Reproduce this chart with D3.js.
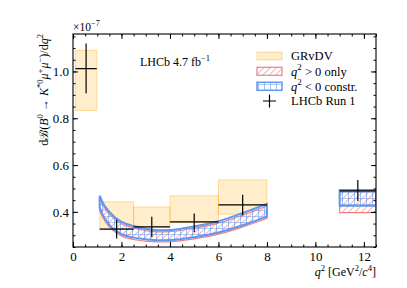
<!DOCTYPE html>
<html>
<body>
<style>
    body { margin: 0; background: white; }
    #view { font-family: "Liberation Serif", "DejaVu Serif", serif; }
</style>

<svg id="view" width="407" height="288"></svg>

<script src="https://cdnjs.cloudflare.com/ajax/libs/d3/7.8.5/d3.min.js"></script>
<script>
    // q2 bins (GeV^2/c^4) and values in units of 1e-7
    const binLo = [0.1, 1.1, 2.5, 4.0, 6.0, 11.0];
    const binHi = [0.98, 2.5, 4.0, 6.0, 8.0, 12.5];

    // GRvDV prediction boxes
    const grvdvLo = [0.833, 0.326, 0.335, 0.354, 0.390, 0.450];
    const grvdvHi = [1.090, 0.443, 0.421, 0.469, 0.537, 0.488];

    // LHCb Run 1 points
    const lhcbX = [0.54, 1.8, 3.25, 5.0, 7.0, 11.75];
    const lhcbY = [1.012, 0.326, 0.336, 0.357, 0.430, 0.490];
    const lhcbLo = [0.907, 0.286, 0.293, 0.314, 0.386, 0.447];
    const lhcbHi = [1.119, 0.366, 0.379, 0.393, 0.473, 0.536];

    // bands, low q2 region
    const bandQ = [1.1, 1.25, 1.5, 2.0, 2.5, 3.0, 3.5, 4.0, 5.0, 6.0, 7.0, 8.0];
    const posUp = [0.458, 0.425, 0.390, 0.348, 0.332, 0.320, 0.315, 0.316, 0.330, 0.352, 0.386, 0.425];
    const posDn = [0.405, 0.372, 0.336, 0.297, 0.282, 0.275, 0.272, 0.273, 0.285, 0.305, 0.336, 0.372];
    const negUp = [0.469, 0.435, 0.400, 0.357, 0.340, 0.328, 0.322, 0.323, 0.338, 0.360, 0.395, 0.434];
    const negDn = [0.418, 0.383, 0.345, 0.305, 0.290, 0.283, 0.279, 0.280, 0.292, 0.312, 0.343, 0.380];

    // bands, high q2 region
    const highQ = [11.0, 12.5];
    const posHighUp = [0.487, 0.487];
    const posHighDn = [0.397, 0.397];
    const negHighUp = [0.493, 0.493];
    const negHighDn = [0.426, 0.426];

    const xTicks = [0, 2, 4, 6, 8, 10, 12];
    const yTicks = [0.4, 0.6, 0.8, 1.0];
    const yTickLabels = ['0.4', '0.6', '0.8', '1.0'];

    const orangeFill = 'rgba(255,165,0,0.2)';
    const orangeEdge = 'rgba(255,165,0,0.35)';
    const red = '#f08080';
    const blue = '#6495ed';
    const serif = '"Liberation Serif", "DejaVu Serif", serif';

    const svg = d3.select('#view');
    const mLeft = 73, mRight = 376, mTop = 34, mBottom = 247;

    const x = d3.scaleLinear().domain([0, 12.5]).range([mLeft, mRight]);
    const y = d3.scaleLinear().domain([0.25, 1.16]).range([mBottom, mTop]);

    // hatch patterns
    const defs = svg.append('defs');
    const hatch = defs.append('pattern')
        .attr('id', 'hatchRed')
        .attr('patternUnits', 'userSpaceOnUse')
        .attr('width', 4.5).attr('height', 4.5)
        .attr('patternTransform', 'rotate(45)');
    hatch.append('line')
        .attr('x1', 0).attr('y1', 0).attr('x2', 0).attr('y2', 4.5)
        .attr('stroke', red).attr('stroke-width', 1.2);

    const grid = defs.append('pattern')
        .attr('id', 'gridBlue')
        .attr('patternUnits', 'userSpaceOnUse')
        .attr('width', 6).attr('height', 6);
    grid.append('path')
        .attr('d', 'M0,0L6,0M0,0L0,6')
        .attr('stroke', blue).attr('stroke-width', 1.2).attr('fill', 'none');

    defs.append('clipPath').attr('id', 'plotClip')
        .append('rect')
        .attr('x', mLeft).attr('y', mTop)
        .attr('width', mRight - mLeft).attr('height', mBottom - mTop);

    const plot = svg.append('g').attr('clip-path', 'url(#plotClip)');

    // GRvDV boxes
    plot.selectAll('.grvdv')
        .data(d3.range(binLo.length))
        .enter().append('rect')
        .attr('x', i => x(binLo[i]))
        .attr('y', i => y(grvdvHi[i]))
        .attr('width', i => x(binHi[i]) - x(binLo[i]))
        .attr('height', i => y(grvdvLo[i]) - y(grvdvHi[i]))
        .attr('fill', orangeFill)
        .attr('stroke', orangeEdge)
        .attr('stroke-width', 1);

    const area = d3.area()
        .x(d => x(d.q))
        .y0(d => y(d.lo))
        .y1(d => y(d.hi))
        .curve(d3.curveMonotoneX);

    function bandData(qs, lo, hi) {
        return qs.map((q, i) => ({q: q, lo: lo[i], hi: hi[i]}));
    }

    const posBands = [bandData(bandQ, posDn, posUp), bandData(highQ, posHighDn, posHighUp)];
    const negBands = [bandData(bandQ, negDn, negUp), bandData(highQ, negHighDn, negHighUp)];

    posBands.forEach(b => {
        plot.append('path').attr('d', area(b)).attr('fill', 'white');
        plot.append('path').attr('d', area(b))
            .attr('fill', 'url(#hatchRed)')
            .attr('stroke', red).attr('stroke-width', 1.2);
    });
    negBands.forEach(b => {
        plot.append('path').attr('d', area(b))
            .attr('fill', 'url(#gridBlue)')
            .attr('stroke', blue).attr('stroke-width', 2);
    });

    // LHCb Run 1 crosses
    const pts = plot.selectAll('.lhcb')
        .data(d3.range(lhcbX.length))
        .enter().append('g');
    pts.append('line')
        .attr('x1', i => x(binLo[i])).attr('x2', i => x(binHi[i]))
        .attr('y1', i => y(lhcbY[i])).attr('y2', i => y(lhcbY[i]))
        .attr('stroke', 'black').attr('stroke-width', 1.2);
    pts.append('line')
        .attr('x1', i => x(lhcbX[i])).attr('x2', i => x(lhcbX[i]))
        .attr('y1', i => y(lhcbLo[i])).attr('y2', i => y(lhcbHi[i]))
        .attr('stroke', 'black').attr('stroke-width', 1.2);

    // axes: inward ticks on all four sides
    const xMinor = d3.range(0, 12.51, 0.5);
    const yMinor = d3.range(0.25, 1.16, 0.05);

    function styleAxis(g) {
        g.attr('font-family', serif).attr('font-size', 13);
        g.select('.domain').remove();
        g.selectAll('line').attr('stroke', 'black').attr('stroke-width', 1);
        g.selectAll('text').attr('fill', 'black');
    }

    svg.append('g').attr('transform', `translate(0,${mBottom})`)
        .call(d3.axisBottom(x).tickValues(xTicks).tickSize(-5).tickPadding(5).tickFormat(d3.format('d')))
        .call(styleAxis);
    svg.append('g').attr('transform', `translate(0,${mBottom})`)
        .call(d3.axisBottom(x).tickValues(xMinor).tickSize(-2.5).tickFormat(''))
        .call(styleAxis);
    svg.append('g').attr('transform', `translate(0,${mTop})`)
        .call(d3.axisTop(x).tickValues(xTicks).tickSize(-5).tickFormat(''))
        .call(styleAxis);
    svg.append('g').attr('transform', `translate(0,${mTop})`)
        .call(d3.axisTop(x).tickValues(xMinor).tickSize(-2.5).tickFormat(''))
        .call(styleAxis);

    svg.append('g').attr('transform', `translate(${mLeft},0)`)
        .call(d3.axisLeft(y).tickValues(yTicks).tickSize(-5).tickPadding(4).tickFormat((d, i) => yTickLabels[i]))
        .call(styleAxis);
    svg.append('g').attr('transform', `translate(${mLeft},0)`)
        .call(d3.axisLeft(y).tickValues(yMinor).tickSize(-2.5).tickFormat(''))
        .call(styleAxis);
    svg.append('g').attr('transform', `translate(${mRight},0)`)
        .call(d3.axisRight(y).tickValues(yTicks).tickSize(-5).tickFormat(''))
        .call(styleAxis);
    svg.append('g').attr('transform', `translate(${mRight},0)`)
        .call(d3.axisRight(y).tickValues(yMinor).tickSize(-2.5).tickFormat(''))
        .call(styleAxis);

    svg.append('rect')
        .attr('x', mLeft).attr('y', mTop)
        .attr('width', mRight - mLeft).attr('height', mBottom - mTop)
        .attr('fill', 'none').attr('stroke', 'black').attr('stroke-width', 1.1);

    // text with italic / superscript parts
    function richText(t, parts, size) {
        let up = 0;
        parts.forEach(p => {
            const s = t.append('tspan').text(p[0]);
            const sup = p[1].indexOf('s') >= 0;
            if (p[1].indexOf('i') >= 0) s.attr('font-style', 'italic');
            if (sup) {
                s.attr('font-size', size * 0.72).attr('dy', -size * 0.42 - up);
                up = -size * 0.42;
            } else {
                s.attr('font-size', size);
                if (up) s.attr('dy', -up);
                up = 0;
            }
        });
        return t;
    }

    richText(svg.append('text').attr('x', mLeft).attr('y', 31), [['×10', ''], ['−7', 's']], 11.5);

    richText(svg.append('text').attr('x', 140).attr('y', 66), [['LHCb 4.7 fb', ''], ['−1', 's']], 12);

    richText(svg.append('text')
        .attr('text-anchor', 'end')
        .attr('transform', `translate(48,${mTop}) rotate(-90)`),
        [['dℬ(', ''], ['B', 'i'], ['0', 's'], [' → ', ''], ['K', 'i'], ['*0', 's'],
         ['μ', 'i'], ['+', 's'], ['μ', 'i'], ['−', 's'], [')/d', ''], ['q', 'i'], ['2', 's']], 12);

    richText(svg.append('text').attr('x', mRight).attr('y', 276).attr('text-anchor', 'end'),
        [['q', 'i'], ['2', 's'], [' [GeV', ''], ['2', 's'], ['/', ''], ['c', 'i'], ['4', 's'], [']', '']], 12);

    // legend
    const legX = 257, legW = 25, legH = 8;
    const legY = [56, 71.3, 86.3, 101];
    const legend = svg.append('g');
    legend.append('rect').attr('x', legX).attr('y', legY[0] - legH / 2)
        .attr('width', legW).attr('height', legH)
        .attr('fill', orangeFill).attr('stroke', orangeEdge);
    legend.append('rect').attr('x', legX).attr('y', legY[1] - legH / 2)
        .attr('width', legW).attr('height', legH)
        .attr('fill', 'url(#hatchRed)').attr('stroke', red).attr('stroke-width', 1.2);
    legend.append('rect').attr('x', legX).attr('y', legY[2] - legH / 2)
        .attr('width', legW).attr('height', legH)
        .attr('fill', 'url(#gridBlue)').attr('stroke', blue).attr('stroke-width', 1.5);
    legend.append('path')
        .attr('d', `M${legX + 6},${legY[3]}L${legX + 19},${legY[3]}M${legX + 12.5},${legY[3] - 6.5}L${legX + 12.5},${legY[3] + 6.5}`)
        .attr('stroke', 'black').attr('stroke-width', 1.2);

    const legTexts = [
        [['GRvDV', '']],
        [['q', 'i'], ['2', 's'], [' > 0 only', '']],
        [['q', 'i'], ['2', 's'], [' < 0 constr.', '']],
        [['LHCb Run 1', '']]
    ];
    legTexts.forEach((parts, i) => {
        richText(legend.append('text').attr('x', 291).attr('y', legY[i] + 4.3), parts, 12.5);
    });
</script>

</body>
</html>
